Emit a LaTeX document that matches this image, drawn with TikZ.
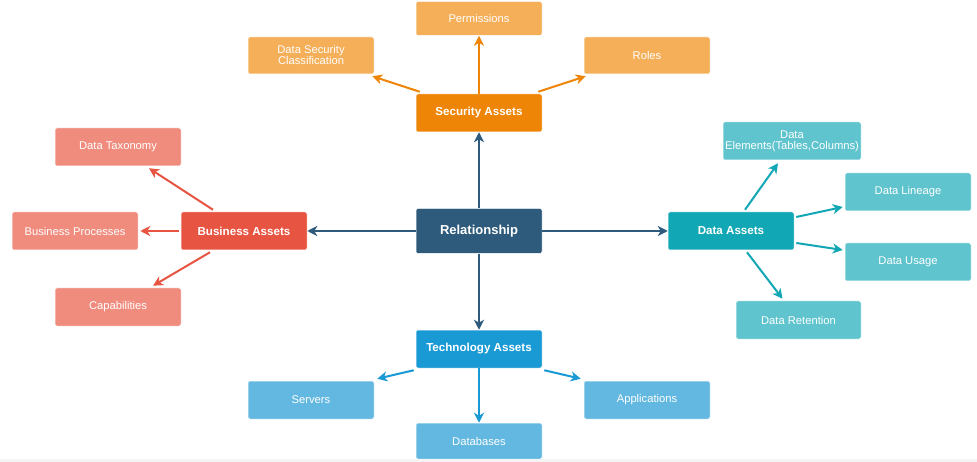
\documentclass[tikz,border=0pt]{standalone}
\usepackage{fontspec}
\setmainfont{Liberation Sans}
\usetikzlibrary{arrows.meta}
\definecolor{relC}{HTML}{2E5A7B}
\definecolor{secC}{HTML}{EE8506}
\definecolor{secL}{HTML}{F5AF59}
\definecolor{busC}{HTML}{E85442}
\definecolor{busL}{HTML}{F08C7E}
\definecolor{datC}{HTML}{12A7B5}
\definecolor{datL}{HTML}{5FC4CD}
\definecolor{tecC}{HTML}{1A9AD4}
\definecolor{tecL}{HTML}{62B8E0}
\definecolor{bandC}{HTML}{F4F4F4}
\tikzset{
  box/.style={rectangle, rounded corners=2pt, minimum width=126pt, minimum height=38pt, inner sep=0pt, text=white, align=center, draw=white, line width=0.5pt},
  mainbox/.style={box, font=\fontsize{11.6}{13}\selectfont\bfseries},
  subbox/.style={box, font=\fontsize{11.2}{11}\selectfont},
  conn/.style={line width=2pt, -{Stealth[length=10pt, width=10pt, inset=3pt]}},
}
\begin{document}
\begin{tikzpicture}[x=1pt, y=-1pt]
\useasboundingbox (0,0) rectangle (977,462);
\fill[white] (0,0) rectangle (977,462);
% center
\node[mainbox, fill=relC, minimum height=45pt, font=\fontsize{13}{15}\selectfont\bfseries] (rel) at (479,231) {Relationship};
% security
\node[mainbox, fill=secC] (sec) at (479,113) {Security Assets};
\node[subbox, fill=secL, minimum height=34pt] (perm) at (479,18.5) {Permissions};
\node[subbox, fill=secL, minimum height=37pt] (dsc) at (311,55.5) {Data Security\\Classification};
\node[subbox, fill=secL, minimum height=37pt] (roles) at (647,55.5) {Roles};
% business
\node[mainbox, fill=busC] (bus) at (244,231) {Business Assets};
\node[subbox, fill=busL] (tax) at (118,147) {Data Taxonomy};
\node[subbox, fill=busL] (proc) at (75,231) {Business Processes};
\node[subbox, fill=busL] (cap) at (118,307) {Capabilities};
% data
\node[mainbox, fill=datC] (dat) at (731,231) {Data Assets};
\node[subbox, fill=datL, minimum width=138pt] (elem) at (792,141) {Data\\Elements(Tables,Columns)};
\node[subbox, fill=datL] (lin) at (908,192) {Data Lineage};
\node[subbox, fill=datL] (usage) at (908,262) {Data Usage};
\node[subbox, fill=datL, minimum width=125pt] (ret) at (798.5,320) {Data Retention};
% technology
\node[mainbox, fill=tecC] (tech) at (479,349) {Technology Assets};
\node[subbox, fill=tecL] (serv) at (311,400) {Servers};
\node[subbox, fill=tecL] (app) at (647,400) {Applications};
\node[subbox, fill=tecL, minimum height=36pt] (db) at (479,441) {Databases};
% connectors from center
\draw[conn, relC] (rel) -- (sec);
\draw[conn, relC] (rel) -- (bus);
\draw[conn, relC] (rel) -- (dat);
\draw[conn, relC] (rel) -- (tech);
% security
\draw[conn, secC] (sec) -- (perm);
\draw[conn, secC] ([xshift=4pt,yshift=2pt]sec.north west) -- ([xshift=-2pt,yshift=-2pt]dsc.south east);
\draw[conn, secC] ([xshift=-4pt,yshift=2pt]sec.north east) -- ([xshift=2pt,yshift=-2pt]roles.south west);
% business
\draw[conn, busC] ([xshift=-31pt,yshift=2pt]bus.north) -- ([xshift=31pt,yshift=-2pt]tax.south);
\draw[conn, busC] ([xshift=-2pt]bus.west) -- ([xshift=2pt]proc.east);
\draw[conn, busC] ([xshift=-34pt,yshift=-2pt]bus.south) -- ([xshift=35pt,yshift=2pt]cap.north);
% data
\draw[conn, datC] ([xshift=14pt,yshift=2pt]dat.north) -- ([xshift=-14pt,yshift=-3pt]elem.south);
\draw[conn, datC] ([xshift=2pt,yshift=14pt]dat.east) -- ([xshift=-2pt,yshift=-15pt]lin.west);
\draw[conn, datC] ([xshift=2pt,yshift=-12pt]dat.east) -- ([xshift=-2pt,yshift=12pt]usage.west);
\draw[conn, datC] ([xshift=16pt,yshift=-2pt]dat.south) -- ([xshift=-16pt,yshift=2pt]ret.north);
% technology
\draw[conn, tecC] (tech) -- (db);
\draw[conn, tecC] ([xshift=-2pt,yshift=-2pt]tech.south west) -- ([xshift=3pt,yshift=2pt]serv.north east);
\draw[conn, tecC] ([xshift=2pt,yshift=-2pt]tech.south east) -- ([xshift=-3pt,yshift=2pt]app.north west);
% bottom band
\fill[bandC] (0,458.5) rectangle (977,462);
\end{tikzpicture}
\end{document}
